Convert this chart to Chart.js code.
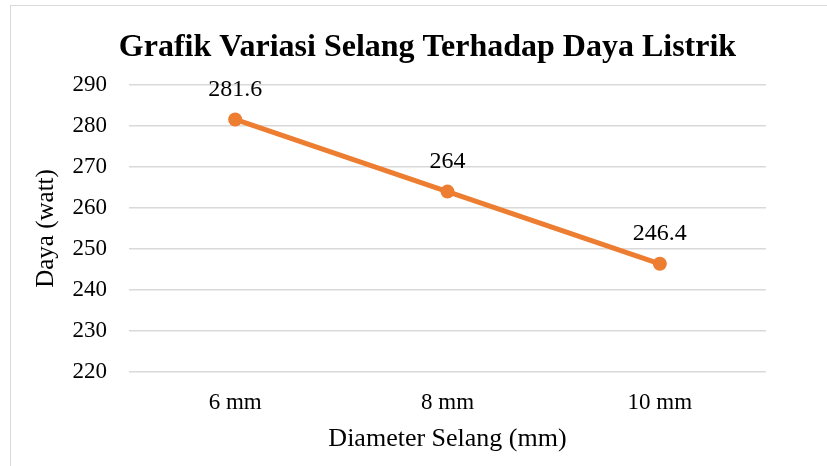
<!DOCTYPE html>
<html>
<head>
<meta charset="utf-8">
<script src="https://cdn.jsdelivr.net/npm/chart.js@4/dist/chart.umd.min.js"></script>
<style>
html,body{margin:0;padding:0;background:#fff;overflow:hidden;width:827px;height:466px;}
#frame{position:absolute;left:10px;top:5px;width:900px;height:600px;border:1.5px solid #d9d9d9;box-sizing:border-box;}
#c{position:absolute;left:0;top:0;}
</style>
</head>
<body>
<div id="frame"></div>
<canvas id="c" width="827" height="466"></canvas>
<script>
const titleText = "Grafik Variasi Selang Terhadap Daya Listrik";
const categories = ["6 mm", "8 mm", "10 mm"];
const dayaValues = [281.6, 264, 246.4];
const yTicks = [220, 230, 240, 250, 260, 270, 280, 290];
const yTitle = "Daya (watt)";
const xTitle = "Diameter Selang (mm)";

const SERIF = "'Liberation Serif', 'Times New Roman', serif";
const ORANGE = "#ED7D31";

const labelPlugin = {
  id: 'pointLabels',
  afterDatasetsDraw(chart) {
    const ctx = chart.ctx;
    const meta = chart.getDatasetMeta(0);
    ctx.save();
    ctx.font = "24px " + SERIF;
    ctx.fillStyle = "#000";
    ctx.textAlign = "center";
    ctx.textBaseline = "middle";
    meta.data.forEach((pt, i) => {
      ctx.fillText(String(dayaValues[i]), pt.x, pt.y - 30);
    });
    ctx.restore();
  }
};

const titlePlugin = {
  id: 'customTitle',
  afterDraw(chart) {
    const ctx = chart.ctx;
    const a = chart.chartArea;
    ctx.save();
    ctx.font = "bold 32px " + SERIF;
    ctx.fillStyle = "#000";
    ctx.textAlign = "center";
    ctx.textBaseline = "middle";
    ctx.fillText(titleText, (a.left + a.right) / 2 - 20, a.top - 37);
    ctx.restore();
  }
};

new Chart(document.getElementById('c'), {
  type: 'line',
  data: {
    labels: categories,
    datasets: [{
      data: dayaValues,
      borderColor: ORANGE,
      backgroundColor: ORANGE,
      borderWidth: 5,
      pointRadius: 7,
      pointHoverRadius: 7,
      pointBorderWidth: 0,
      tension: 0
    }]
  },
  options: {
    responsive: false,
    animation: false,
    events: [],
    layout: { padding: { left: 20, right: 61, top: 85, bottom: 0 } },
    plugins: {
      legend: { display: false },
      title: { display: false },
      tooltip: { enabled: false }
    },
    scales: {
      x: {
        offset: true,
        grid: { display: false, drawTicks: false },
        border: { display: false },
        ticks: { color: "#000", font: { family: SERIF, size: 23 }, padding: 17 },
        title: { display: true, text: xTitle, color: "#000", font: { family: SERIF, size: 26 }, padding: { top: 4, bottom: 11 } },
        afterFit(s) { s.height = 94; }
      },
      y: {
        min: 220,
        max: 290,
        afterBuildTicks(s) { s.ticks = yTicks.map(v => ({ value: v })); },
        grid: { color: "#d9d9d9", lineWidth: 1.5, drawTicks: false },
        border: { display: false },
        ticks: { color: "#000", font: { family: SERIF, size: 23 }, padding: 22 },
        title: { display: true, text: yTitle, color: "#000", font: { family: SERIF, size: 25 }, padding: { top: 11, bottom: 4 } },
        afterFit(s) { s.width = 109; }
      }
    }
  },
  plugins: [labelPlugin, titlePlugin]
});
</script>
</body>
</html>
